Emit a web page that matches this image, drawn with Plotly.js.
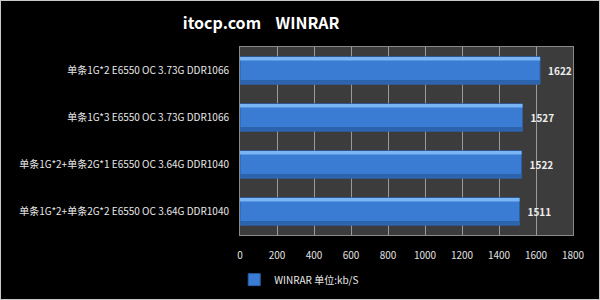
<!DOCTYPE html>
<html>
<head>
<meta charset="utf-8">
<script src="https://cdn.plot.ly/plotly-3.0.1.min.js"></script>
<style>
  html, body { margin: 0; padding: 0; background: #000; }
  #chart { width: 598px; height: 298px; border: 1px solid #c8c8c8; background: #000; }
</style>
</head>
<body>
<div id="chart"></div>
<script>
// Memory configurations tested (top to bottom)
const configs = [
  '单条1G*2 E6550 OC 3.73G DDR1066',
  '单条1G*3 E6550 OC 3.73G DDR1066',
  '单条1G*2+单条2G*1 E6550 OC 3.64G DDR1040',
  '单条1G*2+单条2G*2 E6550 OC 3.64G DDR1040'
];
// WINRAR throughput, kb/S
const winrarSpeed = [1622, 1527, 1522, 1511];
const xTicks = [0, 200, 400, 600, 800, 1000, 1200, 1400, 1600, 1800];
const seriesName = 'WINRAR 单位:kb/S';
const chartTitle = 'itocp.com    WINRAR';

const font = '"Noto Sans CJK SC", "Noto Sans", sans-serif';

const mainBars = {
  type: 'bar',
  orientation: 'h',
  name: seriesName,
  x: winrarSpeed,
  y: configs,
  width: 0.58,
  marker: { color: '#3a7bd4', line: { color: '#2b5fa6', width: 1 } },
  // values sit a little clear of the bar ends
  text: winrarSpeed.map(v => '\u2002' + v),
  textposition: 'outside',
  cliponaxis: false,
  textfont: { color: '#eeeeee', size: 10, family: font, weight: 'bold' },
  hoverinfo: 'x+y'
};

// light sheen along the upper edge of each bar
const sheen = {
  type: 'bar',
  orientation: 'h',
  x: winrarSpeed,
  y: configs,
  width: 0.07,
  offset: -0.285,
  marker: { color: '#79b4f5', line: { width: 0 } },
  showlegend: false,
  hoverinfo: 'skip'
};

// darker shading along the lower edge
const shade = {
  type: 'bar',
  orientation: 'h',
  x: winrarSpeed,
  y: configs,
  width: 0.08,
  offset: 0.2,
  marker: { color: '#2c63ad', line: { width: 0 } },
  showlegend: false,
  hoverinfo: 'skip'
};

const layout = {
  width: 598,
  height: 298,
  paper_bgcolor: '#000000',
  plot_bgcolor: '#3c3c3c',
  margin: { l: 239, r: 26, t: 46, b: 64 },
  barmode: 'overlay',
  title: {
    text: chartTitle,
    font: { family: font, size: 16, color: '#ffffff', weight: 'bold' },
    xref: 'container', x: 0.435, xanchor: 'center',
    yref: 'container', y: 0.925, yanchor: 'middle'
  },
  xaxis: {
    range: [0, 1800],
    tickvals: xTicks,
    ticktext: xTicks.map(String),
    showgrid: true,
    gridcolor: '#9a9a9a',
    gridwidth: 1,
    zeroline: false,
    showline: true,
    linecolor: '#8a8a8a',
    mirror: true,
    ticks: '',
    ticklabelstandoff: 11,
    tickfont: { family: font, size: 10, color: '#e0e0e0' },
    fixedrange: true
  },
  yaxis: {
    autorange: 'reversed',
    showgrid: false,
    zeroline: false,
    showline: true,
    linecolor: '#8a8a8a',
    mirror: true,
    ticks: '',
    ticklabelstandoff: 8,
    tickfont: { family: font, size: 10, color: '#e8e8e8' },
    fixedrange: true
  },
  showlegend: true,
  legend: {
    orientation: 'h',
    xref: 'container', x: 0.39, xanchor: 'left',
    yref: 'container', y: 0.065, yanchor: 'middle',
    font: { family: font, size: 10, color: '#e8e8e8' },
    bgcolor: 'rgba(0,0,0,0)',
    itemwidth: 30
  }
};

Plotly.newPlot('chart', [mainBars, shade, sheen], layout, { displayModeBar: false, staticPlot: true });
</script>
</body>
</html>
